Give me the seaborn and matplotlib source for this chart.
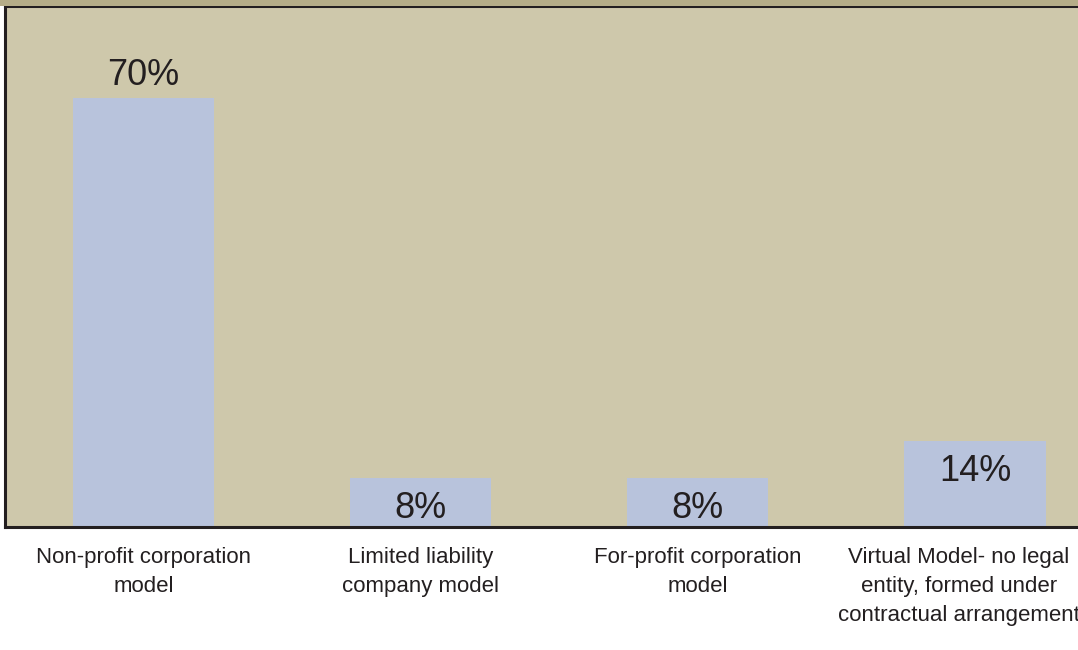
"""
plot.py
Share of organisational models (bar chart), tan panel with value labels.
"""
import matplotlib
matplotlib.use("Agg")
import matplotlib.pyplot as plt
from matplotlib.patches import Rectangle
from matplotlib.transforms import ScaledTranslation
import pandas as pd
import seaborn as sns

models = [
    "Non-profit corporation\nmodel",
    "Limited liability\ncompany model",
    "For-profit corporation\nmodel",
    "Virtual Model- no legal\nentity, formed under\ncontractual arrangement",
]
shares = [70, 8, 8, 14]

PANEL = "#cec8ab"
STRIP = "#b5ad88"
BAR = "#b8c3dc"
INK = "#231f20"

sns.set_theme(style="white")
plt.rcParams["font.family"] = ["Liberation Sans", "DejaVu Sans"]

df = pd.DataFrame({"model": models, "share": shares})

fig = plt.figure(figsize=(10.78, 6.5), dpi=100)
fig.patches.append(Rectangle((0, 0.991), 1, 0.009, transform=fig.transFigure,
                             facecolor=STRIP, edgecolor="none", zorder=0))
ax = fig.add_axes([0.0046, 0.189, 1.0, 0.802])
ax.set_facecolor(PANEL)

sns.barplot(data=df, x="model", y="share", color=BAR, width=0.51,
            saturation=1, linewidth=0, ax=ax)

for i, v in enumerate(shares):
    y = v + 3.6 if v > 30 else v - 5
    ax.text(i, y, f"{v}%", ha="center", va="center", fontsize=26, color=INK)

ax.set_xlim(-0.5, 3.39)
ax.set_ylim(0, 85)
ax.set_xlabel("")
ax.set_ylabel("")
ax.set_yticks([])
ax.tick_params(axis="x", length=0, pad=14, labelsize=16, colors=INK)
labels = ax.get_xticklabels()
for lbl in labels:
    lbl.set_verticalalignment("top")
    lbl.set_linespacing(1.5)
# the last label sits a little left of its bar so it stays inside the figure
labels[-1].set_transform(labels[-1].get_transform()
                         + ScaledTranslation(-0.16, 0, fig.dpi_scale_trans))
for s in ["left", "top", "bottom"]:
    ax.spines[s].set_color(INK)
    ax.spines[s].set_linewidth(2.2)
ax.spines["right"].set_visible(False)

fig.savefig("out.png", dpi=100)
plt.close(fig)
